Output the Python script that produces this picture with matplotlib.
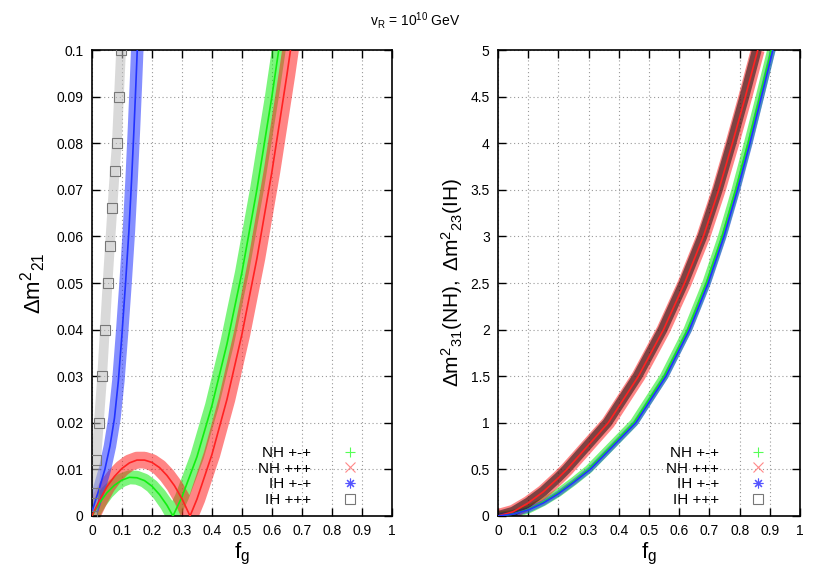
import matplotlib
matplotlib.use('Agg')
import matplotlib.pyplot as plt
from matplotlib.lines import Line2D
from matplotlib.ticker import MultipleLocator, FormatStrFormatter

plt.rcParams['font.family'] = ['Liberation Sans', 'DejaVu Sans']
plt.rcParams['mathtext.fontset'] = 'custom'
plt.rcParams['mathtext.rm'] = 'Liberation Sans'
plt.rcParams['mathtext.it'] = 'Liberation Sans'

labels = ['NH +-+', 'NH +++', 'IH +-+', 'IH +++']
colors = ['#11ee11', '#ff2222', '#2233ff', '#888888']
light = ['#55ff55', '#ff8888', '#5555ff', '#777777']
markers = ['+', 'x', (8, 2, 0), 's']

# left panel: delta m^2_21 vs f_g
l_nh_pmp_x = [0, 0.025, 0.05, 0.075, 0.1, 0.125, 0.15, 0.175, 0.2, 0.225, 0.25, 0.27,
              0.3, 0.35, 0.4, 0.45, 0.5, 0.55, 0.6, 0.63]
l_nh_pmp_y = [0, 0.0028, 0.005, 0.0066, 0.0077, 0.0083, 0.0082, 0.0076, 0.0064, 0.0046, 0.0023, 0,
              0.0041, 0.0127, 0.0237, 0.0369, 0.0523, 0.0701, 0.0901, 0.1032]
l_nh_ppp_x = [0, 0.025, 0.05, 0.075, 0.1, 0.125, 0.15, 0.175, 0.2, 0.225, 0.25, 0.275, 0.3, 0.327,
              0.35, 0.4, 0.45, 0.5, 0.55, 0.6, 0.65, 0.67]
l_nh_ppp_y = [0, 0.0034, 0.0063, 0.0085, 0.0102, 0.0114, 0.012, 0.012, 0.0115, 0.0104, 0.0087, 0.0065, 0.0037, 0,
              0.0036, 0.0132, 0.025, 0.039, 0.0553, 0.0739, 0.0947, 0.1036]
l_ih_pmp_x = [0, 0.01, 0.025, 0.043, 0.06, 0.075, 0.088, 0.1, 0.112, 0.123, 0.132, 0.14, 0.146, 0.151]
l_ih_pmp_y = [0.001, 0.003, 0.006, 0.01, 0.015, 0.021, 0.029, 0.039, 0.05, 0.061, 0.072, 0.083, 0.092, 0.1]
l_ih_ppp_x = [0, 0.006, 0.014, 0.023, 0.034, 0.043, 0.052, 0.06, 0.068, 0.076, 0.083, 0.09, 0.097]
l_ih_ppp_y = [0, 0.005, 0.012, 0.02, 0.03, 0.04, 0.05, 0.058, 0.066, 0.074, 0.08, 0.09, 0.1]

# right panel: delta m^2_31 (NH), delta m^2_23 (IH) vs f_g
r_nh_pmp_x = [0, 0.05, 0.1, 0.15, 0.2, 0.25, 0.3, 0.45, 0.55, 0.628, 0.69, 0.742, 0.787, 0.828, 0.867, 0.905]
r_nh_pmp_y = [0, 0.02, 0.07, 0.15, 0.25, 0.37, 0.5, 1.0, 1.5, 2.0, 2.5, 3.0, 3.5, 4.0, 4.5, 5.0]
r_nh_ppp_x = [0, 0.05, 0.1, 0.15, 0.2, 0.228, 0.365, 0.465, 0.548, 0.618, 0.68, 0.731, 0.776, 0.819, 0.86]
r_nh_ppp_y = [0, 0.045, 0.14, 0.26, 0.41, 0.5, 1.0, 1.5, 2.0, 2.5, 3.0, 3.5, 4.0, 4.5, 5.0]
r_ih_pmp_x = [0, 0.05, 0.1, 0.15, 0.2, 0.25, 0.305, 0.456, 0.556, 0.634, 0.696, 0.748, 0.793, 0.834, 0.872, 0.91]
r_ih_pmp_y = [0, 0.02, 0.065, 0.14, 0.24, 0.36, 0.5, 1.0, 1.5, 2.0, 2.5, 3.0, 3.5, 4.0, 4.5, 5.0]
r_ih_ppp_x = [0, 0.05, 0.1, 0.15, 0.2, 0.226, 0.362, 0.462, 0.545, 0.615, 0.677, 0.728, 0.773, 0.816, 0.857]
r_ih_ppp_y = [0, 0.047, 0.145, 0.265, 0.415, 0.5, 1.0, 1.5, 2.0, 2.5, 3.0, 3.5, 4.0, 4.5, 5.0]

left_series = [(l_nh_pmp_x, l_nh_pmp_y), (l_nh_ppp_x, l_nh_ppp_y),
               (l_ih_pmp_x, l_ih_pmp_y), (l_ih_ppp_x, l_ih_ppp_y)]
right_series = [(r_nh_pmp_x, r_nh_pmp_y), (r_nh_ppp_x, r_nh_ppp_y),
                (r_ih_pmp_x, r_ih_pmp_y), (r_ih_ppp_x, r_ih_ppp_y)]

fig = plt.figure(figsize=(8.3, 5.81), dpi=100)
ax1 = fig.add_axes([0.1108, 0.1119, 0.3614, 0.802])
ax2 = fig.add_axes([0.6, 0.1119, 0.3639, 0.802])


def draw(ax, series, widths, grey_band, grey_alpha, squares):
    for i, ((x, y), c, w) in enumerate(zip(series, colors, widths)):
        band = grey_band if i == 3 else c
        alpha = grey_alpha if i == 3 else 0.55
        ax.plot(x, y, color=band, lw=w, alpha=alpha, solid_capstyle='butt',
                solid_joinstyle='round', zorder=2)
        if i == 3 and squares:
            ax.plot(x, y, ls='none', marker='s', ms=7, mfc='none', mec='#777777', mew=0.8, zorder=3)
        elif i != 3:
            ax.plot(x, y, color=c, lw=1.2, zorder=3)


draw(ax1, left_series, [10, 12, 9, 7], '#bbbbbb', 0.55, True)
draw(ax2, right_series, [6, 10, 4, 7], '#000000', 0.5, False)

handles = [Line2D([], [], ls='none', marker=m, color=c, mfc='none', ms=7, mew=0.8)
           for m, c in zip(markers, light)]

for ax, ymax, ystep in [(ax1, 0.1, 0.01), (ax2, 5, 0.5)]:
    ax.set_xlim(0, 1)
    ax.set_ylim(0, ymax)
    ax.xaxis.set_major_locator(MultipleLocator(0.1))
    ax.yaxis.set_major_locator(MultipleLocator(ystep))
    ax.xaxis.set_major_formatter(FormatStrFormatter('%g'))
    ax.yaxis.set_major_formatter(FormatStrFormatter('%g'))
    ax.tick_params(direction='in', top=True, right=True, length=6, width=1, labelsize=10, pad=6)
    ax.grid(True, color='#999999', ls=(0, (1, 2.5)), lw=0.8)
    for s in ax.spines.values():
        s.set_linewidth(1.2)
    ax.set_xlabel(r'$\mathregular{f_g}$', fontsize=16, labelpad=2)
    ax.legend(handles, labels, loc='lower right', bbox_to_anchor=(0.93, -0.01),
              frameon=False, markerfirst=False, fontsize=11, handlelength=1.0,
              handletextpad=2.0, labelspacing=0.1)

ax1.set_ylabel(r'$\mathregular{\Delta m^2{}_{21}}$', fontsize=16, labelpad=6)
ax2.set_ylabel(r'$\mathregular{\Delta m^2{}_{31}(NH),\ \Delta m^2{}_{23}(IH)}$', fontsize=15, labelpad=4)

fig.text(0.5, 0.965, r'$\mathregular{v_R}$ = 10$^{\mathregular{10}}$ GeV', ha='center', va='center', fontsize=10)

fig.savefig('out.png', dpi=100)
